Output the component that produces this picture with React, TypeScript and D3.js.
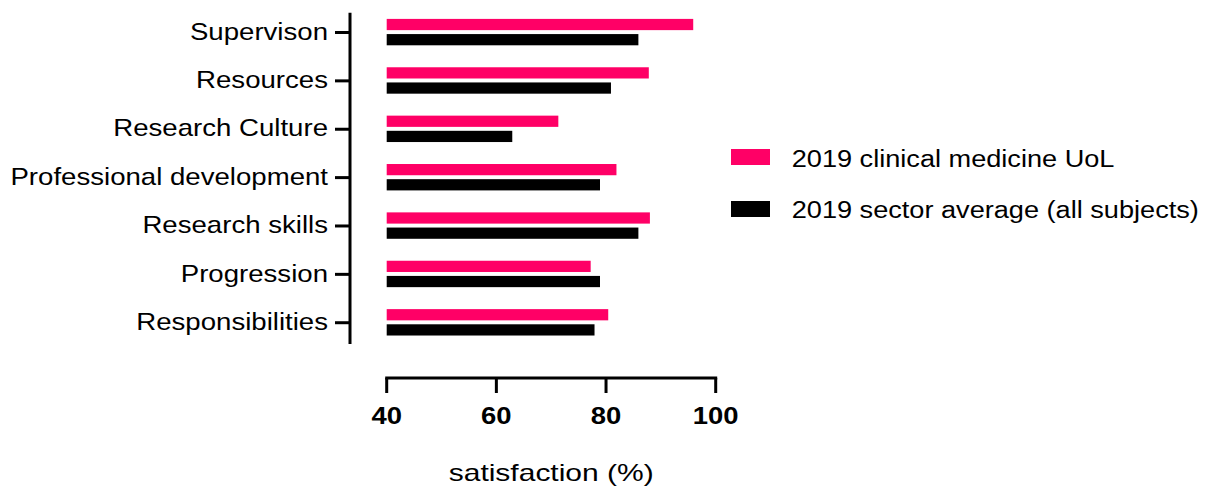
import React from "react";
import * as d3 from "d3";

const categories = [
  "Supervison",
  "Resources",
  "Research Culture",
  "Professional development",
  "Research skills",
  "Progression",
  "Responsibilities",
];
const seriesNames = ["2019 clinical medicine UoL", "2019 sector average (all subjects)"];
const uolValues = [95.9, 87.8, 71.3, 81.9, 88.0, 77.2, 80.4];
const sectorValues = [85.9, 80.9, 62.9, 78.9, 85.9, 78.9, 77.9];
const xTicks = [40, 60, 80, 100];
const colors = ["#ff0066", "#000000"];
const xTitle = "satisfaction (%)";

const W = 1210;
const H = 486;
const FONT = "'Liberation Sans', Arial, Helvetica, sans-serif";

export default function App() {
  const x = d3.scaleLinear().domain([40, 100]).range([386.7, 715.7]);
  const step = 48.37;
  const y = d3
    .scaleBand<string>()
    .domain(categories)
    .range([32.5 - step / 2, 32.5 - step / 2 + step * categories.length])
    .paddingInner(0)
    .paddingOuter(0);
  const inner = d3
    .scaleBand<string>()
    .domain(seriesNames)
    .range([-13.6, 12.8])
    .paddingInner(0.26);
  const seriesVals = [uolValues, sectorValues];
  const center = (c: string) => (y(c) as number) + y.bandwidth() / 2;
  const axisX = 350;
  const axisY = 378;

  return (
    <svg
      width={W}
      height={H}
      style={{ position: "absolute", left: 0, top: 0, background: "#fff" }}
      fontFamily={FONT}
    >
      {/* bars */}
      {categories.map((c, i) =>
        seriesNames.map((s, j) => (
          <rect
            key={c + s}
            x={x(40)}
            y={center(c) + (inner(s) as number)}
            width={x(seriesVals[j][i]) - x(40)}
            height={inner.bandwidth()}
            fill={colors[j]}
          />
        ))
      )}
      {/* y axis */}
      <line x1={axisX} x2={axisX} y1={12.7} y2={344} stroke="#000" strokeWidth={3} />
      {categories.map((c) => (
        <g key={c}>
          <line x1={axisX - 15} x2={axisX} y1={center(c)} y2={center(c)} stroke="#000" strokeWidth={3} />
          <text
            transform={`translate(${axisX - 22},${center(c) + 7.2}) scale(1.15,1)`}
            textAnchor="end"
            fontSize={24}
            fill="#000"
          >
            {c}
          </text>
        </g>
      ))}
      {/* x axis */}
      <line x1={x(40) - 1.5} x2={x(100) + 1.5} y1={axisY} y2={axisY} stroke="#000" strokeWidth={3} />
      {xTicks.map((t) => (
        <g key={t}>
          <line x1={x(t)} x2={x(t)} y1={axisY} y2={axisY + 15} stroke="#000" strokeWidth={3} />
          <text
            transform={`translate(${x(t)},424.3) scale(1.12,1)`}
            textAnchor="middle"
            fontSize={24.5}
            fontWeight="bold"
            fill="#000"
          >
            {t}
          </text>
        </g>
      ))}
      <text
        transform={`translate(${(x(40) + x(100)) / 2},480.7) scale(1.25,1)`}
        textAnchor="middle"
        fontSize={24}
        fill="#000"
      >
        {xTitle}
      </text>
      {/* legend */}
      {seriesNames.map((s, j) => (
        <g key={s}>
          <rect x={731} y={149 + j * 52} width={39} height={16} fill={colors[j]} />
          <text
            transform={`translate(791.7,${166.7 + j * 51.6}) scale(1.16,1)`}
            fontSize={23.4}
            fill="#000"
          >
            {s}
          </text>
        </g>
      ))}
    </svg>
  );
}
